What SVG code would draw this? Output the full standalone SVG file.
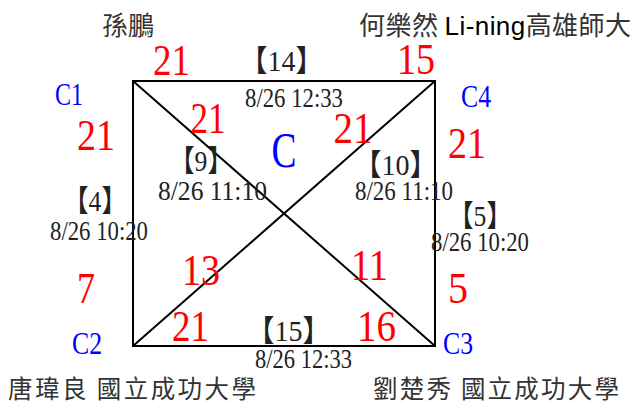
<svg xmlns="http://www.w3.org/2000/svg" width="636" height="405" viewBox="0 0 636 405">
<style>
.ln{stroke:#000;stroke-width:2;fill:none}
.sc{font-family:"Liberation Serif",serif;font-size:45px;fill:#ff0000;text-anchor:middle}
.cl{font-family:"Liberation Serif",serif;font-size:32px;fill:#0000ff;text-anchor:middle}
.dt{font-family:"Liberation Serif",serif;font-size:27px;fill:#222;text-anchor:middle}
.mn{font-family:"Liberation Serif","Noto Sans CJK TC",serif;font-size:30px;fill:#222;text-anchor:middle}
.nm{font-family:"Noto Sans CJK TC","Noto Sans CJK SC",sans-serif;font-size:26px;fill:#333}
.en{font-family:"Liberation Sans",Arial,sans-serif;fill:#000}
</style>
<rect width="636" height="405" fill="#fff"/>
<g id="connectors">
<rect class="ln" x="133" y="81" width="302" height="265"/>
<line class="ln" x1="133" y1="81" x2="435" y2="346"/>
<line class="ln" x1="435" y1="81" x2="133" y2="346"/>
</g>
<g id="C1"><text class="cl" x="69" y="105" textLength="28" lengthAdjust="spacingAndGlyphs">C1</text>
<text class="nm" x="102" y="35">孫鵬</text></g>
<g id="C4"><text class="cl" x="476" y="107" textLength="30" lengthAdjust="spacingAndGlyphs">C4</text>
<text class="nm" x="359" y="35" textLength="272" lengthAdjust="spacing">何樂然 <tspan class="en">Li-ning</tspan>高雄師大</text></g>
<g id="C2"><text class="cl" x="87" y="354" textLength="30" lengthAdjust="spacingAndGlyphs">C2</text>
<text class="nm" x="8" y="398" style="font-size:24.5px" textLength="248" lengthAdjust="spacing">唐瑋良 國立成功大學</text></g>
<g id="C3"><text class="cl" x="458" y="354" textLength="30" lengthAdjust="spacingAndGlyphs">C3</text>
<text class="nm" x="373" y="398" style="font-size:24.5px" textLength="246" lengthAdjust="spacing">劉楚秀 國立成功大學</text></g>
<g id="C"><text class="cl" x="284" y="167" style="font-size:50px" textLength="25" lengthAdjust="spacingAndGlyphs">C</text></g>
<g id="scores">
<text class="sc" x="171.5" y="75" textLength="37" lengthAdjust="spacingAndGlyphs">21</text>
<text class="sc" x="416" y="74" textLength="38" lengthAdjust="spacingAndGlyphs">15</text>
<text class="sc" x="96" y="150" textLength="38" lengthAdjust="spacingAndGlyphs">21</text>
<text class="sc" x="208" y="133" textLength="35" lengthAdjust="spacingAndGlyphs">21</text>
<text class="sc" x="353" y="143" textLength="39" lengthAdjust="spacingAndGlyphs">21</text>
<text class="sc" x="467" y="158" textLength="38" lengthAdjust="spacingAndGlyphs">21</text>
<text class="sc" x="86" y="303" textLength="18" lengthAdjust="spacingAndGlyphs">7</text>
<text class="sc" x="201" y="285" textLength="38" lengthAdjust="spacingAndGlyphs">13</text>
<text class="sc" x="369.5" y="280" textLength="37" lengthAdjust="spacingAndGlyphs">11</text>
<text class="sc" x="458" y="303" textLength="20" lengthAdjust="spacingAndGlyphs">5</text>
<text class="sc" x="190.5" y="341" textLength="37" lengthAdjust="spacingAndGlyphs">21</text>
<text class="sc" x="376.5" y="341" textLength="39" lengthAdjust="spacingAndGlyphs">16</text>
</g>
<g id="m14"><text class="mn" x="281.5" y="71" textLength="84" lengthAdjust="spacingAndGlyphs">【14】</text><text class="dt" x="294" y="107" textLength="98" lengthAdjust="spacingAndGlyphs">8/26 12:33</text></g>
<g id="m9"><text class="mn" x="201" y="171" textLength="64" lengthAdjust="spacingAndGlyphs">【9】</text><text class="dt" x="212.5" y="200" textLength="109" lengthAdjust="spacingAndGlyphs">8/26 11:10</text></g>
<g id="m4"><text class="mn" x="95" y="211" textLength="64" lengthAdjust="spacingAndGlyphs">【4】</text><text class="dt" x="99" y="240" textLength="98" lengthAdjust="spacingAndGlyphs">8/26 10:20</text></g>
<g id="m10"><text class="mn" x="395.5" y="175" textLength="84" lengthAdjust="spacingAndGlyphs">【10】</text><text class="dt" x="404" y="200" textLength="98" lengthAdjust="spacingAndGlyphs">8/26 11:10</text></g>
<g id="m5"><text class="mn" x="480" y="226" textLength="64" lengthAdjust="spacingAndGlyphs">【5】</text><text class="dt" x="480" y="251" textLength="98" lengthAdjust="spacingAndGlyphs">8/26 10:20</text></g>
<g id="m15"><text class="mn" x="288.5" y="341" textLength="84" lengthAdjust="spacingAndGlyphs">【15】</text><text class="dt" x="303.5" y="368" textLength="97" lengthAdjust="spacingAndGlyphs">8/26 12:33</text></g>
</svg>
